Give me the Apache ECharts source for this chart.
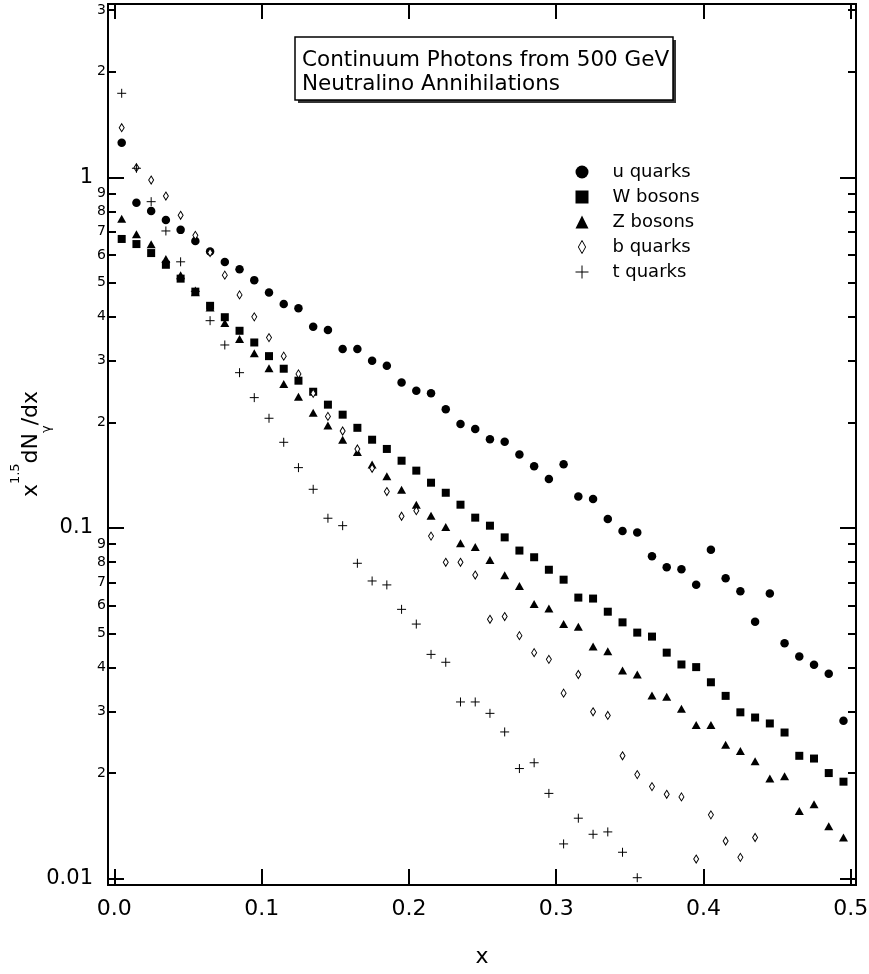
<!DOCTYPE html>
<html>
<head>
<meta charset="utf-8">
<script src="https://cdn.jsdelivr.net/npm/echarts@6/dist/echarts.min.js"></script>
<style>
  html, body { margin: 0; padding: 0; background: #fff; }
  #chart { width: 869px; height: 974px; }
</style>
</head>
<body>
<div id="chart"></div>
<script>
// Bin centres in x = E_gamma / m_chi
const xCenters = [0.005, 0.015, 0.025, 0.035, 0.045, 0.055, 0.065, 0.075, 0.085, 0.095,
                  0.105, 0.115, 0.125, 0.135, 0.145, 0.155, 0.165, 0.175, 0.185, 0.195,
                  0.205, 0.215, 0.225, 0.235, 0.245, 0.255, 0.265, 0.275, 0.285, 0.295,
                  0.305, 0.315, 0.325, 0.335, 0.345, 0.355, 0.365, 0.375, 0.385, 0.395,
                  0.405, 0.415, 0.425, 0.435, 0.445, 0.455, 0.465, 0.475, 0.485, 0.495];

// x^1.5 dN/dx for each annihilation channel
const uQuarks = [1.255, 0.846, 0.801, 0.756, 0.708, 0.658, 0.614, 0.573, 0.547, 0.509,
                 0.469, 0.435, 0.423, 0.375, 0.367, 0.324, 0.324, 0.300, 0.290, 0.260,
                 0.246, 0.242, 0.218, 0.198, 0.1915, 0.179, 0.176, 0.162, 0.150, 0.138,
                 0.152, 0.123, 0.121, 0.106, 0.098, 0.097, 0.083, 0.0773, 0.0762, 0.0689,
                 0.0867, 0.0719, 0.066, 0.054, 0.065, 0.0469, 0.043, 0.0407, 0.0384, 0.0282];
const wBosons = [0.667, 0.645, 0.608, 0.563, 0.514, 0.472, 0.430, 0.399, 0.365, 0.338,
                 0.309, 0.2845, 0.263, 0.2446, 0.2247, 0.2104, 0.193, 0.1785, 0.168, 0.1555,
                 0.1457, 0.1346, 0.126, 0.1165, 0.107, 0.1015, 0.094, 0.0862, 0.0825, 0.076,
                 0.0712, 0.0633, 0.0629, 0.0577, 0.0538, 0.0503, 0.049, 0.0441, 0.0408, 0.0401,
                 0.0363, 0.0332, 0.0298, 0.0288, 0.0277, 0.0261, 0.0224, 0.0220, 0.0200, 0.0189];
const zBosons = [0.762, 0.688, 0.644, 0.585, 0.526, 0.470, 0.425, 0.384, 0.346, 0.315,
                 0.2853, 0.2574, 0.2367, 0.213, 0.196, 0.1785, 0.1647, 0.1516, 0.1404, 0.1286,
                 0.1165, 0.1084, 0.1006, 0.0904, 0.0882, 0.0810, 0.0733, 0.0683, 0.0607, 0.0589,
                 0.0532, 0.0523, 0.0459, 0.0445, 0.0392, 0.0382, 0.0333, 0.0330, 0.0305, 0.0274,
                 0.0274, 0.0241, 0.0231, 0.0216, 0.0193, 0.0196, 0.0156, 0.0163, 0.0141, 0.0131];
const bQuarks = [1.385, 1.065, 0.982, 0.884, 0.779, 0.683, 0.61, 0.526, 0.462, 0.400,
                 0.349, 0.309, 0.275, 0.242, 0.208, 0.189, 0.168, 0.148, 0.127, 0.108,
                 0.112, 0.0948, 0.0798, 0.0798, 0.0734, 0.0549, 0.0559, 0.0493, 0.0441, 0.0422,
                 0.0338, 0.0382, 0.0299, 0.0292, 0.0224, 0.0198, 0.0183, 0.0174, 0.0171, 0.01137,
                 0.0152, 0.0128, 0.0115, 0.0131];
const tQuarks = [1.736, 1.061, 0.852, 0.703, 0.574, 0.473, 0.390, 0.3325, 0.2772, 0.2353,
                 0.2055, 0.1755, 0.1486, 0.1289, 0.1066, 0.1015, 0.0793, 0.0706, 0.0688, 0.0586,
                 0.0532, 0.0436, 0.0414, 0.0319, 0.0319, 0.0296, 0.0262, 0.0206, 0.0214, 0.0175,
                 0.01256, 0.01487, 0.01338, 0.01359, 0.01189, 0.01006];

const seriesNames = ['u quarks', 'W bosons', 'Z bosons', 'b quarks', 't quarks'];

// Axis tick positions
const xTicks = [0, 0.1, 0.2, 0.3, 0.4, 0.5];
const yMajorTicks = [0.01, 0.1, 1];
const yMinorTicks = [0.02, 0.03, 0.04, 0.05, 0.06, 0.07, 0.08, 0.09,
                     0.2, 0.3, 0.4, 0.5, 0.6, 0.7, 0.8, 0.9, 2, 3];

const titleLines = ['Continuum Photons from 500 GeV', 'Neutralino Annihilations'];

const FONT = 'DejaVu Sans';
const X_MIN = -0.0043, X_MAX = 0.5035;
const Y_MIN = 0.00959, Y_MAX = 3.12;

const zip = (xs, ys) => ys.map((y, i) => [xs[i], y]);

const DIAMOND = 'path://M5,0L10,9L5,18L0,9Z';
const PLUS = 'path://M0,5L10,5M5,0L5,10';

const axisLine = { show: true, onZero: false, lineStyle: { color: '#000', width: 2 } };
const tickStyle = { color: '#000', width: 2 };

function fmtMajor(v) { return String(Number(v.toPrecision(3))); }
function fmtMinor(v) {
  const p = Math.pow(10, Math.floor(Math.log10(v) + 1e-9));
  return String(Math.round(v / p));
}

function yAxisDef(position, ticks, tickLen, labels, labelFmt, fontSize, margin) {
  return {
    type: 'log', logBase: 10, position: position, min: Y_MIN, max: Y_MAX,
    axisLine: axisLine,
    axisTick: { show: true, inside: true, length: tickLen, lineStyle: tickStyle, customValues: ticks },
    minorTick: { show: false },
    axisLabel: labels ? {
      show: true, customValues: labels, formatter: labelFmt, margin: margin,
      fontFamily: FONT, fontSize: fontSize, color: '#000'
    } : { show: false },
    splitLine: { show: false }
  };
}

const chart = echarts.init(document.getElementById('chart'), null, { renderer: 'canvas' });

const scatterBase = { type: 'scatter', xAxisIndex: 0, yAxisIndex: 0, silent: true,
                      emphasis: { disabled: true } };

chart.setOption({
  animation: false,
  backgroundColor: '#fff',
  grid: { left: 108, right: 13, top: 4, bottom: 89, containLabel: false, outerBoundsMode: 'none' },
  xAxis: [
    {
      type: 'value', position: 'bottom', min: X_MIN, max: X_MAX,
      axisLine: axisLine,
      axisTick: { show: true, inside: true, length: 16, lineStyle: tickStyle, customValues: xTicks },
      axisLabel: { show: true, customValues: xTicks, formatter: v => v.toFixed(1), margin: 13,
                   fontFamily: FONT, fontSize: 22, color: '#000' },
      splitLine: { show: false },
      name: 'x', nameLocation: 'middle', nameGap: 61, nameMoveOverlap: false,
      nameTextStyle: { fontFamily: FONT, fontSize: 22, color: '#000' }
    },
    {
      type: 'value', position: 'top', min: X_MIN, max: X_MAX,
      axisLine: axisLine,
      axisTick: { show: true, inside: true, length: 15, lineStyle: tickStyle, customValues: xTicks },
      axisLabel: { show: false },
      splitLine: { show: false }
    }
  ],
  yAxis: [
    yAxisDef('left', yMajorTicks, 16, yMajorTicks, fmtMajor, 21, 15),
    yAxisDef('left', yMinorTicks, 8, yMinorTicks, fmtMinor, 14, 2),
    yAxisDef('right', yMajorTicks, 16, null),
    yAxisDef('right', yMinorTicks, 8, null)
  ],
  legend: {
    orient: 'vertical', left: 575, top: 163, padding: 0,
    itemWidth: 13, itemHeight: 13, itemGap: 7,
    selectedMode: false,
    textStyle: { fontFamily: FONT, fontSize: 18, color: '#000', padding: [0, 0, 0, 19] },
    data: [
      { name: seriesNames[0] },
      { name: seriesNames[1] },
      { name: seriesNames[2] },
      { name: seriesNames[3], itemStyle: { color: '#fff', borderColor: '#000', borderWidth: 1 } },
      { name: seriesNames[4], itemStyle: { color: '#000', borderColor: '#000', borderWidth: 1 } }
    ]
  },
  graphic: [
    // title box with drop shadow
    { type: 'rect', z: 10, shape: { x: 298, y: 40, width: 378, height: 63 }, style: { fill: '#333' } },
    { type: 'rect', z: 11, shape: { x: 295, y: 37, width: 378, height: 63 },
      style: { fill: '#fff', stroke: '#000', lineWidth: 1.5 } },
    { type: 'text', z: 12, x: 302, y: 60,
      style: { text: titleLines[0], font: '21.5px "DejaVu Sans"', fill: '#000', verticalAlign: 'middle' } },
    { type: 'text', z: 12, x: 302, y: 84,
      style: { text: titleLines[1], font: '21.5px "DejaVu Sans"', fill: '#000', verticalAlign: 'middle' } },
    // y-axis title: x^{1.5} dN_gamma / dx
    { type: 'text', z: 12, x: 31, y: 444, rotation: Math.PI / 2,
      style: {
        text: '{m|x}{sup|1.5}{m|dN}{sub|γ}{m|/dx}',
        align: 'center', verticalAlign: 'middle', fill: '#000',
        rich: {
          m: { fontFamily: FONT, fontSize: 22, lineHeight: 44, fill: '#000' },
          sup: { fontFamily: FONT, fontSize: 13, lineHeight: 13, verticalAlign: 'top', fill: '#000' },
          sub: { fontFamily: FONT, fontSize: 13, lineHeight: 10, verticalAlign: 'bottom', fill: '#000' }
        }
      } }
  ],
  series: [
    Object.assign({}, scatterBase, {
      name: seriesNames[0], data: zip(xCenters, uQuarks), symbol: 'circle', symbolSize: 8.5,
      itemStyle: { color: '#000', opacity: 1 }
    }),
    Object.assign({}, scatterBase, {
      name: seriesNames[1], data: zip(xCenters, wBosons), symbol: 'rect', symbolSize: 8,
      itemStyle: { color: '#000', opacity: 1 }
    }),
    Object.assign({}, scatterBase, {
      name: seriesNames[2], data: zip(xCenters, zBosons), symbol: 'triangle', symbolSize: [9, 8],
      itemStyle: { color: '#000', opacity: 1 }
    }),
    Object.assign({}, scatterBase, {
      name: seriesNames[3], data: zip(xCenters, bQuarks), symbol: DIAMOND, symbolSize: [5, 8],
      itemStyle: { color: '#fff', borderColor: '#000', borderWidth: 1, opacity: 1 }
    }),
    Object.assign({}, scatterBase, {
      name: seriesNames[4], data: zip(xCenters, tQuarks), symbol: PLUS, symbolSize: 9,
      itemStyle: { color: '#000', borderColor: '#000', borderWidth: 1, opacity: 1 }
    })
  ]
});
</script>
</body>
</html>
